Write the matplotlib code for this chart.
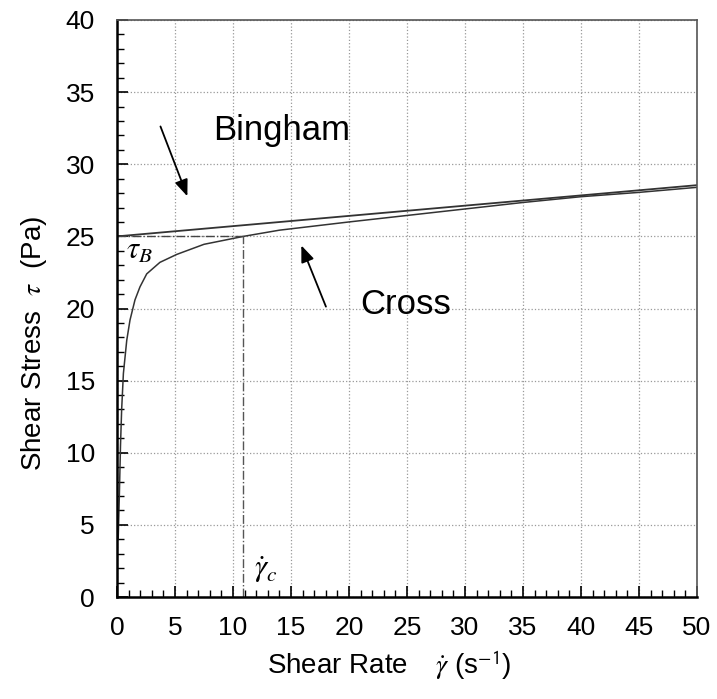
"""
Shear stress against shear rate: Bingham line and Cross model curve.
"""
import numpy as np
import matplotlib
matplotlib.use('Agg')
import matplotlib.pyplot as plt
from matplotlib.ticker import MultipleLocator

plt.rcParams['font.family'] = ['Liberation Sans', 'DejaVu Sans']
plt.rcParams['mathtext.fontset'] = 'stix'

# Bingham line
bingham_rate = [0, 50]
bingham_stress = [25.0, 28.55]

# Cross curve
cross_rate = [0.1, 0.2, 0.3, 0.4, 0.55, 0.84, 1.12, 1.55, 1.98, 2.56, 3.7,
              5.15, 7.5, 10.9, 14.0, 20, 25, 30, 35, 40, 45, 50]
cross_stress = [4.0, 7.0, 10.5, 13.0, 15.5, 17.8, 19.2, 20.6, 21.5, 22.4,
                23.2, 23.75, 24.45, 25.0, 25.43, 26.0, 26.45, 26.9, 27.35,
                27.75, 28.05, 28.4]

tau_b = 25.0
gamma_c = 10.9

fig = plt.figure(figsize=(7.17, 6.99), dpi=100)
ax = fig.add_axes([0.1632, 0.1459, 0.8089, 0.8255])

ax.plot(bingham_rate, bingham_stress, color='#333333', lw=1.3)
ax.plot(cross_rate, cross_stress, color='#333333', lw=1.1)

# yield stress and critical rate markers
ax.plot([0, gamma_c], [tau_b, tau_b], color='#444444', lw=1.0, ls='-.')
ax.plot([gamma_c, gamma_c], [0, tau_b], color='#555555', lw=1.0, ls='-.')

ax.set_xlim(0, 50)
ax.set_ylim(0, 40)
ax.xaxis.set_major_locator(MultipleLocator(5))
ax.xaxis.set_minor_locator(MultipleLocator(1))
ax.yaxis.set_major_locator(MultipleLocator(5))
ax.yaxis.set_minor_locator(MultipleLocator(1))
ax.tick_params(which='major', direction='in', length=8, width=1.2,
               labelsize=19)
ax.tick_params(which='minor', direction='in', length=5, width=1.0)
ax.tick_params(axis='x', pad=14)
ax.tick_params(axis='y', pad=16)
ax.grid(True, which='major', ls=':', color='#999999', lw=0.9)

for side in ['left', 'bottom']:
    ax.spines[side].set_linewidth(1.8)
for side in ['top', 'right']:
    ax.spines[side].set_linewidth(1.2)
    ax.spines[side].set_color('#555555')

ax.set_xlabel(r'Shear Rate $\quad\dot{\gamma}$ (s$^{\mathsf{-1}}$)',
              fontsize=20, labelpad=6)
ax.xaxis.label.set_x(0.47)
ax.set_ylabel(r'Shear Stress  $\tau$  (Pa)', fontsize=20, labelpad=12)
ax.yaxis.label.set_y(0.44)

ax.text(14.2, 31.7, 'Bingham', fontsize=25, ha='center', va='baseline')
ax.text(24.9, 19.6, 'Cross', fontsize=25, ha='center', va='baseline')
ax.annotate('', xy=(6.15, 27.6), xytext=(3.66, 32.8),
            arrowprops=dict(arrowstyle='-|>,head_length=1.0,head_width=0.4',
                            color='black', lw=1.3))
ax.annotate('', xy=(15.8, 24.55), xytext=(18.1, 19.95),
            arrowprops=dict(arrowstyle='-|>,head_length=1.0,head_width=0.4',
                            color='black', lw=1.3))

ax.text(0.8, 24.0, r'$\tau_B$', fontsize=22, ha='left', va='center')
ax.text(12.85, 1.9, r'$\dot{\gamma}_c$', fontsize=22, ha='center',
        va='center')

fig.savefig('out.png', dpi=100)
